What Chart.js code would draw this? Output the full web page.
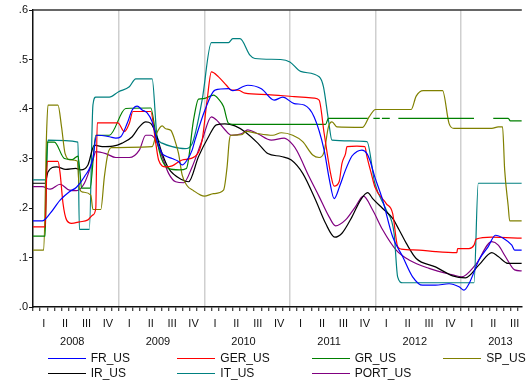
<!DOCTYPE html>
<html><head><meta charset="utf-8">
<script src="https://cdn.jsdelivr.net/npm/chart.js@4/dist/chart.umd.min.js"></script>
<style>
html,body{margin:0;padding:0;background:#fff;}
#wrap{position:relative;width:526px;height:383px;overflow:hidden;font-family:"Liberation Sans",Arial,sans-serif;}
#c{position:absolute;left:0;top:0;}
.lg{position:absolute;font-size:12px;color:#111;line-height:14px;white-space:nowrap;}
.lg i{position:absolute;left:0;top:7px;width:38px;height:0;border-top:1.3px solid;}
.lg span{position:absolute;left:43px;top:0;}
</style></head><body>
<div id="wrap"><canvas id="c" width="526" height="383"></canvas><div id="legend"></div></div>
<script>
// x = months since January 2008, y = value
const FR_US = [[0,.174],[1.3,.174],[2.4,.189],[3.8,.216],[5.1,.233],[6.1,.242],[7.2,.263],[8.4,.30],[8.9,.347],[10.7,.344],[11.6,.341],[12.3,.344],[13.2,.371],[13.9,.398],[14.6,.406],[15.3,.398],[16.0,.392],[16.7,.374],[17.4,.335],[18.1,.31],[18.6,.305],[19.5,.3],[20.4,.294],[20.9,.287],[21.6,.297],[22.3,.317],[22.7,.337],[24.1,.398],[25.5,.438],[27.4,.441],[28.0,.437],[30.1,.448],[32.0,.441],[33.8,.418],[35,.424],[36.6,.411],[38,.408],[39.4,.384],[40.8,.317],[41.5,.26],[42.2,.219],[43,.245],[43.8,.277],[44.7,.305],[45.4,.314],[46.1,.317],[46.8,.31],[47.2,.297],[47.9,.263],[49,.216],[50.4,.142],[51.8,.102],[53.2,.061],[54.6,.044],[56.4,.044],[58.3,.047],[59.7,.041],[60.4,.034],[61.1,.047],[62.5,.095],[63.8,.122],[64.8,.145],[65.9,.139],[67.1,.125],[67.5,.115],[68.5,.115]];
const GER_US = [[0,.162],[1.7,.162],[2.0,.294],[3.5,.294],[3.8,.27],[4.2,.21],[4.7,.176],[5.4,.169],[6.5,.172],[7.7,.176],[8.4,.186],[8.8,.2],[9.0,.372],[11.9,.372],[12.8,.354],[13.5,.371],[14.0,.395],[16.5,.395],[17.2,.331],[17.6,.297],[18.6,.283],[19.5,.285],[20.9,.297],[22.7,.304],[23.7,.337],[24.4,.418],[25.0,.475],[26,.465],[27.1,.448],[27.8,.438],[28.75,.438],[29.7,.432],[32.9,.429],[36.6,.425],[39.4,.422],[40.1,.418],[40.8,.351],[41.7,.27],[42.2,.244],[42.9,.253],[43.3,.29],[43.8,.31],[44,.324],[45.4,.325],[46.5,.324],[46.8,.304],[47.4,.27],[47.9,.243],[49.5,.209],[50.4,.189],[51.1,.122],[51.6,.117],[54.1,.115],[56.4,.112],[59.4,.11],[59.5,.118],[61.1,.118],[61.8,.125],[62.1,.137],[64.3,.141],[68.5,.139]];
const GR_US = [[0,.143],[1.7,.143],[2.0,.333],[3.0,.333],[4.4,.30],[5.5,.298],[6.3,.305],[6.6,.27],[6.8,.24],[8.0,.24],[8.8,.347],[10.7,.347],[13.0,.401],[16.5,.402],[17.3,.34],[18,.3],[19,.28],[20.5,.277],[21.5,.28],[22.5,.378],[23.2,.42],[23.9,.421],[25.3,.428],[26,.42],[26.7,.405],[27.4,.371],[28,.369],[41.0,.369],[41.4,.381],[46.9,.381],[47.0,null],[47.7,.381],[48.6,.381],[48.7,null],[48.9,.381],[50.0,.381],[50.1,null],[51.2,.381],[61.8,.381],[61.9,null],[64.5,.381],[66.6,.381],[66.9,.376],[68.5,.376]];
const SP_US = [[0,.115],[1.5,.115],[1.9,.35],[2.1,.408],[3.5,.408],[4.0,.364],[4.5,.31],[5.3,.297],[6.2,.295],[6.5,.24],[7.0,.232],[8.1,.226],[8.4,.197],[9.5,.197],[10.0,.263],[10.5,.31],[11,.322],[16.7,.324],[17.3,.35],[18.1,.366],[18.6,.36],[19.3,.357],[20,.331],[20.4,.31],[20.9,.267],[21.6,.245],[22.5,.235],[23.5,.226],[24,.224],[25.3,.229],[26.7,.236],[27.2,.283],[27.5,.335],[27.7,.347],[29.2,.348],[29.9,.355],[31.3,.351],[33.6,.347],[34.8,.352],[36.4,.347],[37.8,.334],[39.2,.307],[40.1,.302],[40.8,.314],[41.4,.364],[41.9,.374],[42.6,.364],[46.2,.363],[47.1,.384],[48.0,.399],[53.0,.399],[53.7,.426],[54.7,.437],[57.4,.437],[58.3,.371],[59.0,.361],[64.3,.361],[65.2,.364],[65.8,.364],[66.1,.277],[66.6,.203],[66.8,.174],[68.5,.174]];
const IR_US = [[0,.25],[1.7,.25],[2.1,.273],[3.3,.283],[4.6,.278],[6.0,.28],[6.7,.277],[7.7,.287],[8.6,.327],[9.7,.324],[11.2,.325],[12.5,.331],[13.9,.344],[14.9,.364],[15.8,.374],[16.5,.371],[17.2,.351],[18.1,.31],[19.0,.28],[20.9,.257],[21.8,.253],[23.2,.304],[24.6,.344],[25.7,.368],[26.9,.37],[28.3,.366],[29.7,.354],[31.5,.331],[32.9,.31],[34.8,.304],[36.2,.297],[37.8,.27],[39.6,.216],[41.0,.169],[42.3,.141],[43.3,.149],[44.7,.182],[45.9,.216],[46.9,.231],[47.6,.219],[49.0,.199],[50.4,.179],[51.3,.156],[52.3,.129],[53.7,.098],[56.4,.081],[58.8,.063],[60.6,.059],[62.5,.085],[64.3,.11],[65.2,.102],[66.6,.088],[68.5,.088]];
const IT_US = [[0,.257],[1.8,.257],[2.1,.337],[6.3,.333],[6.5,.157],[7.9,.157],[8.4,.408],[8.8,.424],[10.7,.424],[12,.435],[13.5,.445],[14.4,.461],[16.7,.461],[17.4,.344],[18.1,.331],[19.5,.324],[21.3,.32],[22.3,.33],[23.7,.418],[25,.534],[27.4,.534],[28,.542],[29,.542],[30.4,.509],[31.1,.502],[34.7,.5],[36,.495],[37.5,.476],[40.1,.465],[40.7,.445],[41.4,.378],[41.9,.337],[46.8,.334],[47.9,.25],[49.5,.196],[50.6,.149],[51.1,.061],[51.8,.049],[61.8,.049],[62.4,.25],[68.5,.25]];
const PORT_US = [[0,.243],[1.3,.243],[2.4,.238],[3.8,.248],[5.1,.236],[6.1,.235],[7.2,.25],[8.4,.297],[8.8,.314],[10.2,.31],[11.6,.302],[13.5,.302],[14.9,.317],[15.8,.347],[16.5,.347],[17.2,.337],[18.1,.304],[19.0,.27],[20.0,.253],[21.1,.251],[22.3,.283],[23.7,.337],[25.0,.384],[25.7,.378],[26.9,.358],[27.8,.347],[29.2,.35],[30.1,.358],[31.5,.35],[33.4,.337],[35.2,.341],[36.4,.328],[37.0,.315],[38.7,.263],[40.1,.223],[41.5,.182],[42.4,.164],[43.8,.176],[45.2,.203],[46.3,.224],[47.6,.196],[49.0,.156],[50.9,.115],[52.7,.095],[55.5,.078],[58.8,.065],[60.1,.061],[62.0,.085],[64.3,.132],[65.2,.125],[66.2,.102],[67.5,.075],[68.5,.073]];

const seriesNames = ['FR_US','GER_US','GR_US','SP_US','IR_US','IT_US','PORT_US'];
const seriesValues = [FR_US, GER_US, GR_US, SP_US, IR_US, IT_US, PORT_US];
const seriesColors = ['#0000ff','#ff0000','#008000','#808000','#000000','#008080','#800080'];
const quarterLabels = ['I','II','III','IV'];
const startYear = 2008;
const yTicks = [0, 0.1, 0.2, 0.3, 0.4, 0.5, 0.6];
const xMax = 68.5;

const FONT = '"Liberation Sans", Arial, sans-serif';

const datasets = seriesNames.map((n, i) => ({
  label: n,
  data: seriesValues[i].map(p => ({x: p[0], y: p[1]})),
  borderColor: seriesColors[i],
  backgroundColor: seriesColors[i],
  borderWidth: 1.2,
  pointRadius: 0,
  fill: false,
  spanGaps: false,
  cubicInterpolationMode: 'monotone'
}));

const isYearBoundary = v => v > 0 && Math.abs(v % 12) < 1e-9;

const frame = {
  id: 'frame',
  afterDraw(chart) {
    const {ctx, chartArea: a} = chart;
    ctx.save();
    ctx.strokeStyle = '#333';
    ctx.lineWidth = 1.5;
    ctx.beginPath();
    ctx.moveTo(a.left, a.top);
    ctx.lineTo(a.right, a.top);
    ctx.stroke();
    ctx.restore();
  }
};

new Chart(document.getElementById('c'), {
  type: 'line',
  data: { datasets },
  plugins: [frame],
  options: {
    responsive: false,
    devicePixelRatio: 1,
    animation: false,
    layout: { padding: { top: 10, right: 0, bottom: 0, left: 0 } },
    plugins: { legend: { display: false }, tooltip: { enabled: false } },
    scales: {
      x: {
        type: 'linear', min: 0, max: xMax,
        afterBuildTicks: s => {
          const t = [];
          for (let v = 0; v <= xMax + 1e-9; v += 0.5) t.push({ value: v });
          s.ticks = t;
        },
        afterFit: s => { s.height = 76; },
        ticks: {
          autoSkip: false, maxRotation: 0, minRotation: 0, padding: 4.2,
          color: '#111',
          font: { family: FONT, size: 11, lineHeight: 1.6 },
          callback: v => {
            const r = ((v % 12) + 12) % 12;
            const year = startYear + Math.floor(v / 12 + 1e-9);
            if (Math.abs(r - 5.5) < 1e-6) return ['', String(year)];
            const q = (r - 1.5) / 3;
            if (Math.abs(q - Math.round(q)) < 1e-6 && q >= 0 && q < 4) return quarterLabels[Math.round(q)];
            return '';
          }
        },
        grid: {
          drawOnChartArea: true,
          color: c => (c.tick && isYearBoundary(c.tick.value)) ? '#cfcfcf' : 'rgba(0,0,0,0)',
          lineWidth: 1.5,
          tickColor: c => (c.tick && Math.abs(c.tick.value - Math.round(c.tick.value)) < 1e-9) ? '#111' : 'rgba(0,0,0,0)',
          tickLength: 4,
          tickWidth: 1
        },
        border: { color: '#111', width: 1.5 }
      },
      y: {
        min: 0, max: 0.6,
        afterBuildTicks: s => { s.ticks = yTicks.map(v => ({ value: v })); },
        afterFit: s => { s.width = 33; },
        ticks: {
          padding: 1, color: '#111',
          font: { family: FONT, size: 11 },
          callback: v => '.' + Math.round(v * 10)
        },
        grid: { drawOnChartArea: false, tickLength: 4, tickColor: '#111' },
        border: { color: '#111', width: 1.5 }
      }
    }
  }
});

// legend (4 columns, 2 rows)
const legendCols = [47.7, 177.3, 311.7, 443.3];
const legendRows = [351, 366];
const lg = document.getElementById('legend');
seriesNames.forEach((n, i) => {
  const d = document.createElement('div');
  d.className = 'lg';
  d.style.left = legendCols[i % 4] + 'px';
  d.style.top = legendRows[Math.floor(i / 4)] + 'px';
  d.innerHTML = '<i style="border-color:' + seriesColors[i] + '"></i><span>' + n + '</span>';
  lg.appendChild(d);
});
</script>
</body></html>
